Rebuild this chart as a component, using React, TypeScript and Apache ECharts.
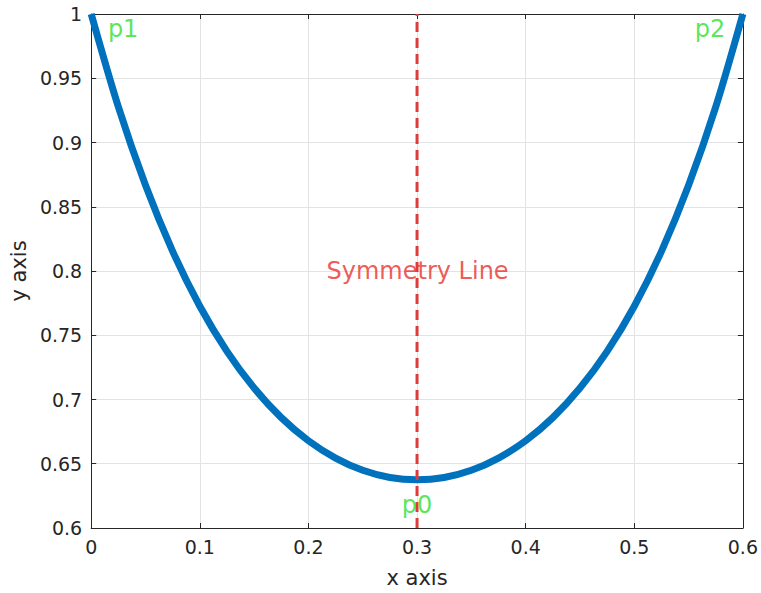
import React, { useEffect, useRef } from "react";
import * as echarts from "echarts";

const curveX = [0, 0.025, 0.05, 0.075, 0.1, 0.125, 0.15, 0.175, 0.2, 0.225, 0.25, 0.275, 0.3,
  0.325, 0.35, 0.375, 0.4, 0.425, 0.45, 0.475, 0.5, 0.525, 0.55, 0.575, 0.6];
const curveY = [1.0, 0.9277, 0.8667, 0.8153, 0.7726, 0.7375, 0.7089, 0.6859, 0.6679, 0.6544, 0.6449, 0.6393, 0.6375,
  0.6393, 0.6449, 0.6544, 0.6679, 0.6859, 0.7089, 0.7375, 0.7726, 0.8153, 0.8667, 0.9277, 1.0];
const symX = [0.3, 0.3];
const symY = [0.6, 1.0];
const labelTexts = ["p1", "p2", "p0"];
const labelX = [0.0294, 0.5697, 0.3];
const labelY = [0.988, 0.988, 0.618];
const symLabel = "Symmetry Line";
const symLabelPos = [0.3005, 0.8];

const FONT = "DejaVu Sans";
const DARK = "#262626";

export default function App() {
  const ref = useRef<HTMLDivElement>(null);
  useEffect(() => {
    if (!ref.current) return;
    const chart = echarts.init(ref.current, undefined, { renderer: "svg" });
    const axisCommon = {
      axisLine: { show: true, onZero: false, lineStyle: { color: DARK, width: 1 } },
      axisTick: { show: true, inside: true, length: 5, lineStyle: { color: DARK } },
    };
    chart.setOption({
      animation: false,
      backgroundColor: "#ffffff",
      grid: { left: 91, right: 18, top: 14, bottom: 63, containLabel: false },
      xAxis: [
        {
          type: "value", min: 0, max: 0.6, interval: 0.1, position: "bottom",
          ...axisCommon,
          axisLabel: { color: DARK, fontFamily: FONT, fontSize: 19, margin: 9 },
          splitLine: { show: true, lineStyle: { color: "#e3e3e3", width: 1 } },
          name: "x axis", nameLocation: "middle", nameGap: 39,
          nameTextStyle: { color: DARK, fontFamily: FONT, fontSize: 21 },
        },
        {
          type: "value", min: 0, max: 0.6, interval: 0.1, position: "top",
          ...axisCommon, axisLabel: { show: false }, splitLine: { show: false },
        },
      ],
      yAxis: [
        {
          type: "value", min: 0.6, max: 1, interval: 0.05, position: "left",
          ...axisCommon,
          axisLabel: { color: DARK, fontFamily: FONT, fontSize: 19, margin: 9 },
          splitLine: { show: true, lineStyle: { color: "#e3e3e3", width: 1 } },
          name: "y axis", nameLocation: "middle", nameGap: 62,
          nameTextStyle: { color: DARK, fontFamily: FONT, fontSize: 21 },
        },
        {
          type: "value", min: 0.6, max: 1, interval: 0.05, position: "right",
          ...axisCommon, axisLabel: { show: false }, splitLine: { show: false },
        },
      ],
      series: [
        {
          type: "line",
          data: curveX.map((x, i) => [x, curveY[i]]),
          smooth: 0.3,
          showSymbol: false,
          lineStyle: { color: "#0072BD", width: 7 },
          z: 2,
        },
        {
          type: "line",
          data: symX.map((x, i) => [x, symY[i]]),
          showSymbol: false,
          lineStyle: { color: "#de3b3b", width: 3, type: [10, 6] },
          z: 3,
        },
        {
          type: "scatter",
          symbolSize: 0.01,
          data: labelX.map((x, i) => ({ value: [x, labelY[i]], name: labelTexts[i] })),
          label: {
            show: true, position: "inside", formatter: "{b}",
            color: "#2ee02e", fontFamily: FONT, fontSize: 24,
          },
          z: 4,
        },
        {
          type: "scatter",
          symbolSize: 0.01,
          data: [{ value: symLabelPos, name: symLabel }],
          label: {
            show: true, position: "inside", formatter: "{b}",
            color: "#e8302c", fontFamily: FONT, fontSize: 24,
          },
          z: 4,
        },
      ],
    });
    return () => chart.dispose();
  }, []);
  return (
    <div
      ref={ref}
      style={{ position: "absolute", left: 0, top: 0, width: 761, height: 593 }}
    />
  );
}
